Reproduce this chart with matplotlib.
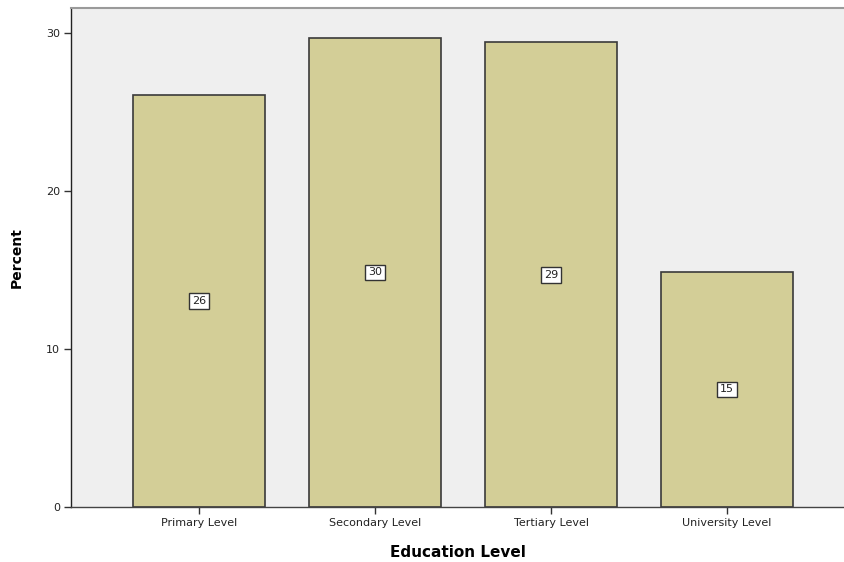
import matplotlib
matplotlib.use("Agg")
import matplotlib.pyplot as plt

categories = ["Primary Level", "Secondary Level", "Tertiary Level", "University Level"]
percent = [26.1, 29.7, 29.4, 14.9]
y_ticks = [0, 10, 20, 30]

plt.rcParams["font.family"] = ["DejaVu Sans"]

fig = plt.figure(figsize=(8.45, 5.62), dpi=100)
ax = fig.add_axes([71 / 845, 1 - 507 / 562, 1 - 71 / 845, (507 - 8) / 562])
ax.set_facecolor("#efefef")

x = list(range(len(categories)))
bars = ax.bar(x, percent, width=0.75, color="#d3ce97", edgecolor="#3a3a3a",
              linewidth=1.2, zorder=2)

for xi, v in zip(x, percent):
    ax.text(xi, v / 2, f"{v:.0f}", ha="center", va="center", fontsize=8,
            color="#222222", zorder=3,
            bbox=dict(boxstyle="square,pad=0.25", facecolor="white",
                      edgecolor="#333333", linewidth=1.0))

ax.set_xlim(-0.727, 3.67)
ax.set_ylim(0, (507 - 8) / 15.8)
ax.set_xticks(x)
ax.set_xticklabels(categories, fontsize=8, color="#222222")
ax.set_yticks(y_ticks)
ax.set_yticklabels([str(t) for t in y_ticks], fontsize=8, color="#222222")
ax.tick_params(axis="both", length=5, width=1.0, color="#333333", pad=3)

ax.spines["right"].set_visible(False)
ax.spines["top"].set_color("#9a9a9a")
ax.spines["top"].set_linewidth(1.5)
ax.spines["left"].set_color("#222222")
ax.spines["bottom"].set_color("#444444")
ax.spines["left"].set_linewidth(1.0)
ax.spines["bottom"].set_linewidth(1.0)

ax.set_xlabel("Education Level", fontsize=11, fontweight="bold", labelpad=12)
ax.set_ylabel("Percent", fontsize=10, fontweight="bold", labelpad=16)

fig.savefig("out.png", dpi=100, facecolor="white")
